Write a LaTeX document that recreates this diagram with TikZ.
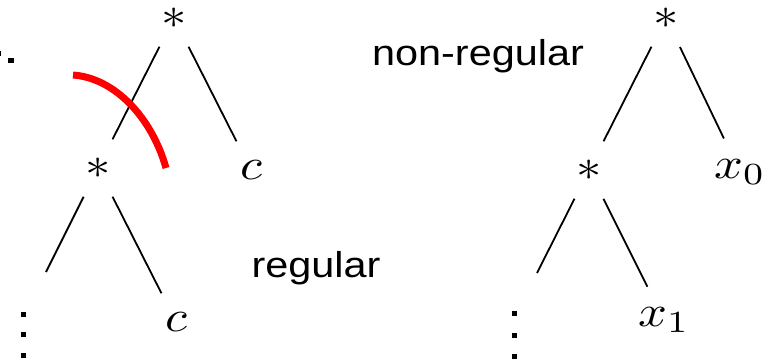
\documentclass[tikz,border=0pt]{standalone}
\usepackage{fontspec}
\usepackage{graphicx}
\newfontfamily\labelfont{Liberation Sans}
\tikzset{
  tn/.style={circle, inner sep=0pt, minimum size=64pt},
  tnw/.style={tn, minimum size=74pt},
  br/.style={line width=1.8pt},
  lbl/.style={anchor=base, inner sep=0pt, font=\labelfont\fontsize{36}{40}\selectfont},
  dotsq/.style={fill=black},
  cut/.style={draw=red, line width=7pt}
}
\newcommand{\hs}[1]{\scalebox{1.15}[1]{#1}}
\newcommand{\mth}[1]{\scalebox{5.06}[4.4]{$#1$}}
\begin{document}
\begin{tikzpicture}[x=1pt,y=-1pt]
\useasboundingbox (0,0) rectangle (776,361);
% left tree
\node[tn] (T1) at (174,18) {\mth{*}};
\node[tn] (M1) at (98,168) {\mth{*}};
\node[tn] (C1) at (251,170) {\mth{c}};
\node[tn] (B1) at (176,322) {\mth{c}};
\coordinate (E1) at (46,272);
\draw[br] (T1) -- (M1);
\draw[br] (T1) -- (C1);
\draw[br] (M1) -- (E1);
\draw[br] (M1) -- (B1);
% right tree
\node[tn] (T2) at (666,18) {\mth{*}};
\node[tn] (M2) at (589,170) {\mth{*}};
\node[tnw] (X0) at (740,172) {\mth{x_0}};
\node[tnw] (X1) at (664,320) {\mth{x_1}};
\coordinate (E2) at (537,273);
\draw[br] (T2) -- (M2);
\draw[br] (T2) -- (X0);
\draw[br] (M2) -- (E2);
\draw[br] (M2) -- (X1);
% labels
\node[lbl] (nr) at (478,66) {\hs{non-regular}};
\node[lbl] (rg) at (316,277) {\hs{regular}};
% red cut
\coordinate (RA) at (73,75);
\coordinate (RB) at (166,168);
\draw[cut] (RA) .. controls (115,78) and (152,118) .. (RB);
% vertical dots
\foreach \y in {314,334.5,355.5} \fill[dotsq] (20.5,\y-2.5) rectangle (25.5,\y+2.5);
\foreach \y in {313.5,335,356.5} \fill[dotsq] (511.5,\y-2.5) rectangle (516.5,\y+2.5);
% cropped mark at the left edge
\fill[dotsq] (8,58) rectangle (14,63);
\fill[dotsq] (0,51) rectangle (1.2,56);
\end{tikzpicture}
\end{document}
